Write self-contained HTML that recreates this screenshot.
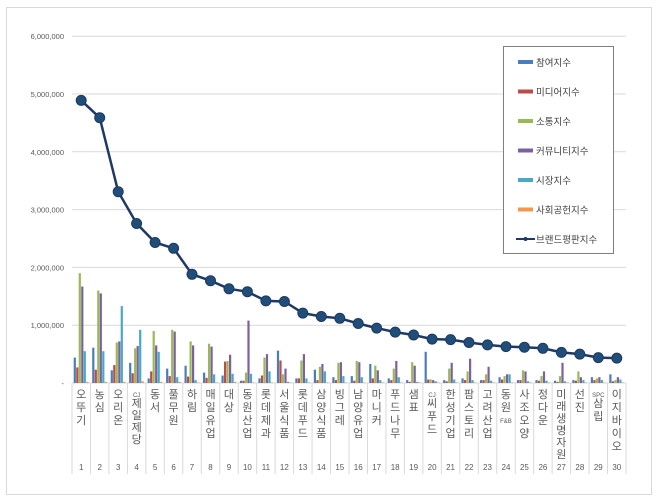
<!DOCTYPE html>
<html><head><meta charset="utf-8"><style>
html,body{margin:0;padding:0;background:#fff;}
svg{display:block;font-family:"Liberation Sans","Noto Sans CJK KR",sans-serif;}
</style></head><body>
<svg id="s" width="660" height="502" viewBox="0 0 660 502" xmlns="http://www.w3.org/2000/svg">
<rect x="6.5" y="7.5" width="645" height="487" fill="#fff" stroke="#d9d9d9"/>
</svg>
<script>
const s=document.getElementById('s');let h='';
const X0=72,X1=626,Y0=383,K=57.8,W=(X1-X0)/30;
for(let i=0;i<=6;i++){const y=Y0-i*K;
 if(i>0)h+=`<line x1="${X0}" x2="${X1}" y1="${y}" y2="${y}" stroke="#d9d9d9"/>`;
 h+=`<text x="64" y="${y+3}" font-size="7.5" fill="#595959" text-anchor="end">${i?i+',000,000':'-'}</text>`;}
h+=`<line x1="${X0}" x2="${X1}" y1="${Y0}" y2="${Y0}" stroke="#d9d9d9"/>`;
for(let i=0;i<=30;i++){const x=X0+i*W;h+=`<line x1="${x}" x2="${x}" y1="${Y0}" y2="474" stroke="#d9d9d9"/>`;}
const names=['오뚜기','농심','오리온','CJ제일제당','동서','풀무원','하림','매일유업','대상','동원산업','롯데제과','서울식품','롯데푸드','삼양식품','빙그레','남양유업','마니커','푸드나무','샘표','CJ씨푸드','한성기업','팜스토리','고려산업','동원F&B','사조오양','정다운','미래생명자원','선진','SPC삼립','이지바이오'];
const line=[4.89,4.59,3.31,2.76,2.43,2.33,1.88,1.77,1.63,1.58,1.42,1.41,1.21,1.15,1.12,1.03,.95,.88,.83,.76,.75,.70,.66,.63,.62,.60,.53,.50,.44,.43];
const bars=[[.44,.27,1.9,1.67,.55,.02],[.61,.23,1.6,1.55,.55,.02],[.22,.31,.7,.72,1.33,.02],[.35,.17,.6,.64,.92,.03],[.08,.2,.9,.65,.54,.02],[.25,.12,.92,.89,.1,.02],[.3,.11,.72,.65,.05,.01],[.18,.09,.68,.63,.15,.01],[.13,.37,.38,.49,.16,.02],[.04,.04,.18,1.08,.16,.01],[.08,.13,.44,.5,.2,.01],[.56,.39,.15,.25,.02,.01],[.08,.08,.39,.5,.08,.01],[.23,.05,.28,.33,.2,.01],[.1,.05,.35,.36,.12,.01],[.12,.04,.38,.36,.1,.01],[.33,.08,.3,.22,.05,.01],[.08,.05,.25,.38,.1,.01],[.05,.02,.36,.3,.02,.01],[.54,.06,.06,.05,.03,.01],[.05,.03,.25,.35,.06,.01],[.08,.05,.2,.42,.05,.01],[.05,.05,.15,.28,.04,.01],[.1,.06,.12,.15,.15,.01],[.05,.05,.22,.2,.03,.01],[.05,.04,.12,.2,.04,.01],[.04,.02,.12,.35,.03,.01],[.05,.04,.2,.1,.05,.01],[.1,.05,.08,.1,.05,.01],[.15,.03,.05,.1,.06,.01]];
const C=['#4a7ebb','#be4b48','#98b954','#7d60a0','#46aac5','#f79646'];
let pts=[];
for(let i=0;i<30;i++){const cx=X0+(i+.5)*W;
 bars[i].forEach((v,j)=>{const hgt=v*K;h+=`<rect x="${(cx-7.5+j*2.5).toFixed(1)}" y="${(Y0-hgt).toFixed(1)}" width="2.2" height="${hgt.toFixed(1)}" fill="${C[j]}"/>`;});
 pts.push([cx,Y0-line[i]*K]);
 const toks=names[i].match(/[A-Za-z&]+|./g);
 let y=398;const step=names[i].length>5?12:13;
 for(const t of toks){if(/[A-Za-z&]/.test(t)){h+=`<text x="${cx}" y="${y-1}" font-size="6" fill="#595959" text-anchor="middle">${t.replace('&','&amp;')}</text>`;y+=9;}
  else{h+=`<text x="${cx}" y="${y}" font-size="11" fill="#595959" text-anchor="middle">${t}</text>`;y+=step;}}
 h+=`<text x="${cx}" y="470" font-size="8" fill="#595959" text-anchor="middle">${i+1}</text>`;}
h+=`<polyline points="${pts.map(p=>p[0].toFixed(1)+','+p[1].toFixed(1)).join(' ')}" fill="none" stroke="#1f3864" stroke-width="2.5"/>`;
pts.forEach(p=>h+=`<circle cx="${p[0].toFixed(1)}" cy="${p[1].toFixed(1)}" r="5" fill="#1f4e79" stroke="#1f3864"/>`);
h+=`<rect x="503.5" y="46.5" width="110" height="207" fill="#fff" stroke="#7f7f7f"/>`;
const L=['참여지수','미디어지수','소통지수','커뮤니티지수','시장지수','사회공헌지수','브랜드평판지수'];
L.forEach((n,i)=>{const y=62+i*29.5;
 if(i<6)h+=`<rect x="518" y="${y-2}" width="15" height="4" fill="${C[i]}"/>`;
 else h+=`<line x1="516" x2="535" y1="${y}" y2="${y}" stroke="#1f3864" stroke-width="2"/><circle cx="525.5" cy="${y}" r="2" fill="#1f3864"/>`;
 h+=`<text x="536" y="${y+4}" font-size="9.5" fill="#404040">${n}</text>`;});
s.insertAdjacentHTML('beforeend',h);
</script>
</body></html>
